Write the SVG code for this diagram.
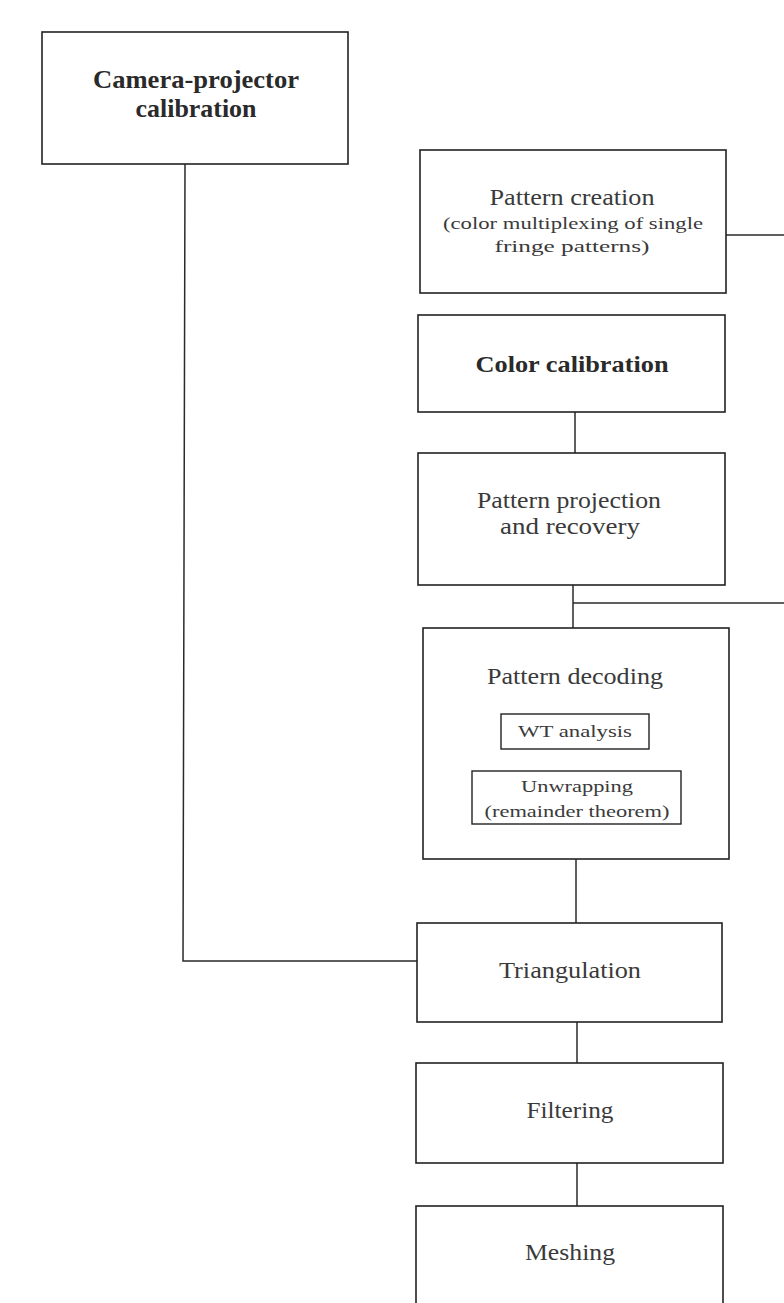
<svg xmlns="http://www.w3.org/2000/svg" width="784" height="1303" viewBox="0 0 784 1303">
  <style>
    .box { fill: #ffffff; stroke: #222222; stroke-width: 1.6; }
    .sub { fill: #ffffff; stroke: #222222; stroke-width: 1.4; }
    .wire { fill: none; stroke: #2a2a2a; stroke-width: 1.5; }
    text { font-family: "Liberation Serif", "Times New Roman", serif; fill: #3a3a3a; text-anchor: middle; }
    .bold { font-weight: bold; fill: #2a2a2a; }
    .lbl { font-size: 23px; }
    .small { font-size: 17px; }
  </style>
  <rect x="0" y="0" width="784" height="1303" fill="#ffffff"/>

  <!-- connectors -->
  <g id="connectors">
    <polyline class="wire" points="185,164 183,961 417,961"/>
    <line class="wire" x1="726" y1="235" x2="784" y2="235"/>
    <line class="wire" x1="575" y1="412" x2="575" y2="453"/>
    <line class="wire" x1="573" y1="585" x2="573" y2="628"/>
    <line class="wire" x1="573" y1="603" x2="784" y2="603"/>
    <line class="wire" x1="576" y1="859" x2="576" y2="923"/>
    <line class="wire" x1="577" y1="1022" x2="577" y2="1063"/>
    <line class="wire" x1="577" y1="1163" x2="577" y2="1206"/>
  </g>

  <g id="camera-projector-calibration">
    <rect class="box" x="42" y="32" width="306" height="132"/>
    <text class="bold" x="196" y="88" font-size="26" textLength="206" lengthAdjust="spacingAndGlyphs">Camera-projector</text>
    <text class="bold" x="196" y="117" font-size="26" textLength="121" lengthAdjust="spacingAndGlyphs">calibration</text>
  </g>

  <g id="pattern-creation">
    <rect class="box" x="420" y="150" width="306" height="143"/>
    <text class="lbl" x="572" y="205" textLength="165" lengthAdjust="spacingAndGlyphs">Pattern creation</text>
    <text class="small" x="573" y="229" textLength="260" lengthAdjust="spacingAndGlyphs">(color multiplexing of single</text>
    <text class="small" x="572" y="252" textLength="155" lengthAdjust="spacingAndGlyphs">fringe patterns)</text>
  </g>

  <g id="color-calibration">
    <rect class="box" x="418" y="315" width="307" height="97"/>
    <text class="bold" x="572" y="372" font-size="23" textLength="193" lengthAdjust="spacingAndGlyphs">Color calibration</text>
  </g>

  <g id="pattern-projection">
    <rect class="box" x="418" y="453" width="307" height="132"/>
    <text class="lbl" x="569" y="508" textLength="184" lengthAdjust="spacingAndGlyphs">Pattern projection</text>
    <text class="lbl" x="570" y="534" textLength="140" lengthAdjust="spacingAndGlyphs">and recovery</text>
  </g>

  <g id="pattern-decoding">
    <rect class="box" x="423" y="628" width="306" height="231"/>
    <text class="lbl" x="575" y="684" textLength="176" lengthAdjust="spacingAndGlyphs">Pattern decoding</text>
    <g id="wt-analysis">
      <rect class="sub" x="501" y="714" width="148" height="35"/>
      <text class="small" x="575" y="737" textLength="114" lengthAdjust="spacingAndGlyphs">WT analysis</text>
    </g>
    <g id="unwrapping">
      <rect class="sub" x="472" y="771" width="209" height="53"/>
      <text class="small" x="577" y="792" textLength="112" lengthAdjust="spacingAndGlyphs">Unwrapping</text>
      <text class="small" x="577" y="817" textLength="185" lengthAdjust="spacingAndGlyphs">(remainder theorem)</text>
    </g>
  </g>

  <g id="triangulation">
    <rect class="box" x="417" y="923" width="305" height="99"/>
    <text class="lbl" x="570" y="978" textLength="142" lengthAdjust="spacingAndGlyphs">Triangulation</text>
  </g>

  <g id="filtering">
    <rect class="box" x="416" y="1063" width="307" height="100"/>
    <text class="lbl" x="570" y="1118" textLength="87" lengthAdjust="spacingAndGlyphs">Filtering</text>
  </g>

  <g id="meshing">
    <rect class="box" x="416" y="1206" width="307" height="110"/>
    <text class="lbl" x="570" y="1260" textLength="90" lengthAdjust="spacingAndGlyphs">Meshing</text>
  </g>
</svg>
